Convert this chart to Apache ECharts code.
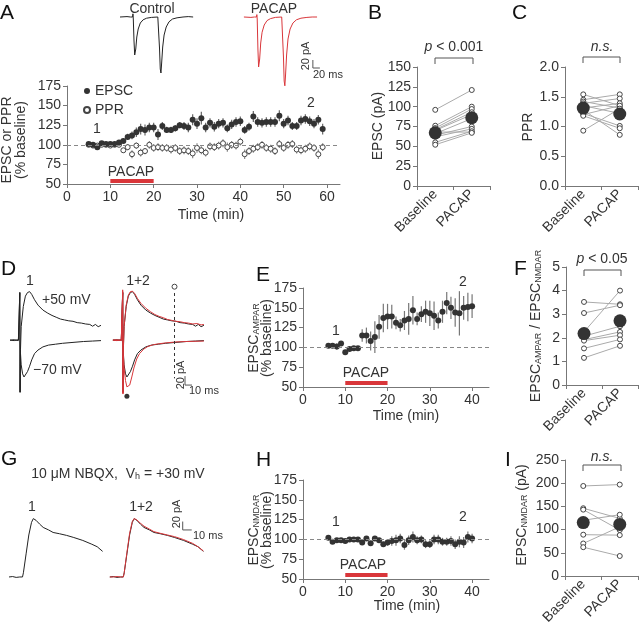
<!DOCTYPE html>
<html>
<head>
<meta charset="utf-8">
<script src="https://cdn.jsdelivr.net/npm/echarts@6/dist/echarts.min.js"></script>
<style>html,body{margin:0;background:#fff}#main{width:640px;height:627px}</style>
</head>
<body>
<div id="main"></div>
<script>
// ---- data ----
var aTime = [5,6,7,8,9,10,11,12,13,14,15,16,17,18,19,20,21,22,23,24,25,26,27,28,29,30,31,32,33,34,35,36,37,38,39,40,41,42,43,44,45,46,47,48,49,50,51,52,53,54,55,56,57,58,59];
var aEpsc = [101,100,97,102,101,101,101,103,105,110,112,116,120,119,122,122,113,124,119,119,121,125,124,122,132,127,134,122,128,123,127,128,121,126,129,130,119,123,136,129,128,129,129,129,137,127,131,124,124,131,133,130,127,132,120];
var aEpscErr = [2,2,3,2,2,2,2,2,3,4,5,6,7,7,6,6,7,5,4,4,4,4,5,6,7,7,8,6,6,6,6,6,5,6,6,6,5,5,7,6,6,6,6,6,7,6,6,5,5,6,6,6,6,6,7];
var aPpr = [100,99,99,100,100,99,100,100,93,97,88,99,90,92,100,96,97,96,96,94,96,92,93,92,89,96,93,90,98,97,99,102,97,100,99,104,88,92,95,97,100,96,95,92,101,96,100,101,94,93,95,98,96,88,97];
var aPprErr = [2,2,2,2,2,2,2,2,3,4,5,4,5,4,5,5,5,5,5,5,5,5,5,5,6,6,5,5,5,5,5,5,6,5,5,5,6,5,5,5,5,5,5,5,5,5,5,5,5,5,5,5,5,6,5];

var eTime = [6,7,8,9,10,11,12,13,14,15,16,17,18,19,20,21,22,23,24,25,26,27,28,29,30,31,32,33,34,35,36,37,38,39,40];
var eVal = [102,102,101,105,94,98,99,99,115,115,108,113,126,137,139,139,131,128,134,136,147,136,142,145,143,140,134,145,156,150,144,143,150,151,152];
var eErr = [2,2,4,2,3,2,2,2,8,10,12,20,15,18,16,15,8,8,12,20,18,8,10,14,16,18,10,14,14,14,18,28,15,18,15];

var hTime = [6,7,8,9,10,11,12,13,14,15,16,17,18,19,20,21,22,23,24,25,26,27,28,29,30,31,32,33,34,35,36,37,38,39,40];
var hVal = [102,97,99,99,98,100,100,100,96,101,95,101,99,94,96,98,99,101,93,99,103,99,100,94,94,100,100,97,97,98,94,97,96,103,101];
var hErr = [1,2,1,1,1,1,1,1,2,2,3,3,3,3,4,6,7,6,6,6,7,5,5,5,5,6,6,5,5,6,6,7,7,7,6];

var pacapOn = [10, 20];
var pairCats = ['Baseline', 'PACAP'];

var bBase = [96,76,73,71,70,68,66,64,62,55,52];
var bPacap = [121,100,97,93,90,68,85,75,72,69,67];
var bMean = [67, 86];

var cBase = [1.54,1.45,1.42,1.39,1.35,1.31,1.28,1.22,1.20,1.18,0.93];
var cPacap = [1.35,1.54,1.31,1.47,1.22,1.39,0.86,1.01,1.35,0.97,1.30];
var cMean = [1.31, 1.21];

var fBase = [3.52,3.05,2.25,2.07,1.92,1.88,1.55,1.15];
var fPacap = [3.42,3.38,4.0,2.49,2.25,2.11,1.93,1.66];
var fMean = [2.18, 2.72];

var iBase = [194,146,143,120,89,70,62];
var iPacap = [197,124,99,132,88,106,43];
var iMean = [115, 111];

// example traces [ms, pA]
var ctlTrace = [[0,0],[20,1],[30,0],[36,0],[37,8],[38,-5],[40,-60],[42,-95],[43,-100],[45,-80],[48,-50],[52,-30],[58,-15],[66,-7],[76,-3],[90,-1],[108,0],[110,5],[111,-5],[113,-80],[115,-130],[117,-140],[119,-115],[122,-75],[126,-45],[132,-25],[140,-12],[150,-5],[163,-2],[180,0],[195,1],[209,0]];
var pacTrace = [[0,0],[20,-1],[30,0],[36,0],[37,6],[38,-5],[40,-80],[42,-125],[43,-130],[45,-105],[48,-65],[52,-38],[58,-20],[66,-9],[76,-4],[90,-1],[108,0],[110,5],[111,-5],[113,-100],[115,-160],[117,-172],[119,-145],[122,-95],[126,-55],[132,-30],[140,-15],[150,-7],[163,-3],[180,-1],[195,0],[209,0]];

var d1Up = [[0,0],[6,1],[12,-1],[13.5,0],[14,106],[14.4,-116],[15,-20],[16,30],[19,75],[22,98],[25,106],[28,108],[31,102],[35,90],[40,78],[47,67],[54,60],[60,55],[66,51],[72,47],[78,45],[84,43],[90,42],[96,39],[102,38],[108,36],[114,35],[118,31],[122,35],[126,30],[130,33]];
var d1Down = [[0,0],[6,-1],[12,1],[13.5,0],[14,106],[14.4,-116],[15,-30],[16,-55],[18,-75],[20,-82],[22,-80],[25,-70],[28,-58],[31,-44],[35,-30],[40,-22],[47,-15],[55,-11],[65,-9],[75,-7],[90,-5],[105,-3],[118,-2],[130,-1]];
var d2Up = [[0,0],[6,-1],[12,1],[13.5,0],[14,112],[14.4,-118],[15,-15],[16,30],[19,78],[22,100],[25,108],[28,109],[31,104],[35,93],[40,82],[47,71],[54,63],[60,57],[66,53],[72,50],[78,46],[84,44],[90,42],[96,41],[102,39],[108,38],[114,36],[120,37],[126,34],[130,35]];
var d2Down = [[0,0],[6,1],[12,-1],[13.5,0],[14,108],[14.4,-120],[15,-35],[16,-62],[18,-90],[20,-104],[22,-107],[24,-100],[27,-82],[30,-62],[34,-42],[38,-30],[44,-20],[50,-14],[58,-10],[66,-8],[76,-6],[90,-4],[105,-3],[130,-2]];
var dMarkTimes = [88, 20];

var g1 = [[0,0],[4,1],[8,-1],[12,0],[15,0],[16,10],[19,55],[22,100],[25,130],[27,139],[30,135],[34,126],[38,118],[44,112],[49,106],[56,103],[64,99],[72,94],[82,87],[92,78],[98,72],[104,61]];
var g2 = [[0,0],[4,0],[8,1],[12,0],[15,0],[16,10],[19,58],[22,104],[25,132],[27,139],[30,136],[34,128],[38,121],[44,114],[49,108],[56,104],[64,100],[72,96],[82,89],[92,80],[98,72],[104,62]];

var scaleA = [20, 20];  // ms, pA
var scaleD = [10, 20];
var scaleG = [10, 20];

// ---- chart ----
var myChart = echarts.init(document.getElementById('main'));
var FF = '"Liberation Sans", Arial, sans-serif';
var RED = '#d9363a';

var axLine = {show: true, lineStyle: {color: '#777', width: 1}};
function tickSt(extra) { return Object.assign({show: true, length: 4, inside: false, lineStyle: {color: '#777'}}, extra || {}); }
function labSt(extra) { return Object.assign({color: '#333', fontSize: 14, fontFamily: FF, margin: 6}, extra || {}); }

function hidX(g, min, max) { return {type: 'value', gridIndex: g, min: min, max: max, show: false}; }
function timeX(g, max, ticks) {
    return {type: 'value', gridIndex: g, min: 0, max: max, axisLine: axLine,
        axisTick: tickSt({customValues: ticks}), axisLabel: labSt({customValues: ticks}), splitLine: {show: false}};
}
function valY(g, min, max, interval, fmt) {
    return {type: 'value', gridIndex: g, min: min, max: max, interval: interval, axisLine: axLine,
        axisTick: tickSt(), axisLabel: labSt(fmt ? {formatter: fmt} : {}), splitLine: {show: false}};
}
function catX(g) {
    return {type: 'category', gridIndex: g, data: pairCats, boundaryGap: true, axisLine: axLine,
        axisTick: tickSt({alignWithLabel: false, interval: 0}),
        axisLabel: labSt({rotate: 45, interval: 0, margin: 6}), splitLine: {show: false}};
}

var openDot = {color: '#fff', borderColor: '#444', borderWidth: 1, opacity: 1};
var fullDot = {color: '#333', opacity: 1};

function pts(t, v) { return t.map(function (x, i) { return [x, v[i]]; }); }
function errBars(g, t, v, e, color) {
    return {
        type: 'custom', xAxisIndex: g, yAxisIndex: g, silent: true, z: 1,
        data: t.map(function (x, i) { return [x, v[i], e[i]]; }),
        encode: {x: 0, y: 1},
        renderItem: function (params, api) {
            var lo = api.coord([api.value(0), api.value(1) - api.value(2)]);
            var hi = api.coord([api.value(0), api.value(1) + api.value(2)]);
            return {type: 'line', shape: {x1: lo[0], y1: lo[1], x2: hi[0], y2: hi[1]}, style: {stroke: color, lineWidth: 1.2}};
        }
    };
}
var dash100 = {silent: true, symbol: ['none', 'none'], label: {show: false}, animation: false,
    lineStyle: {color: '#888', type: [4, 3], width: 1}, data: [{yAxis: 100}]};
function pacapBar(g, level) {
    return {type: 'line', xAxisIndex: g, yAxisIndex: g, data: [[pacapOn[0], level], [pacapOn[1], level]],
        symbol: 'none', lineStyle: {color: RED, width: 4}, z: 3};
}
function trace(g, arr, off, color) {
    return {type: 'line', xAxisIndex: g, yAxisIndex: g, data: arr.map(function (p) { return [p[0] + off, p[1]]; }),
        symbol: 'none', lineStyle: {color: color, width: 1}, z: color === RED ? 3 : 2};
}
function scaleBar(g, t0, p0, sc) {
    return {type: 'line', xAxisIndex: g, yAxisIndex: g, data: [[t0, p0 + sc[1]], [t0, p0], [t0 + sc[0], p0]],
        symbol: 'none', lineStyle: {color: '#555', width: 1}};
}
function pairSeries(g, base, pac, mean) {
    var s = base.map(function (b, i) {
        return {type: 'line', xAxisIndex: g, yAxisIndex: g, data: [b, pac[i]], symbol: 'circle', symbolSize: 5,
            lineStyle: {color: '#aaa', width: 1}, itemStyle: openDot, z: 2};
    });
    s.push({type: 'scatter', xAxisIndex: g, yAxisIndex: g, data: mean, symbolSize: 13, itemStyle: fullDot, z: 5});
    return s;
}
function timeSeries(g, t, v, e) {
    return [errBars(g, t, v, e, '#777'),
        {type: 'scatter', xAxisIndex: g, yAxisIndex: g, data: pts(t, v), symbolSize: 6, itemStyle: fullDot, z: 4, markLine: dash100}];
}

function txt(x, y, text, o) {
    o = o || {};
    var st = {text: text, fill: o.color || '#333', font: (o.italic ? 'italic ' : '') + (o.size || 14) + 'px ' + FF,
        textAlign: o.align || 'center', align: o.align || 'center', textVerticalAlign: o.va || 'middle', verticalAlign: o.va || 'middle'};
    if (o.rich) st.rich = o.rich;
    return {type: 'text', x: x, y: y, rotation: o.rot || 0, style: st, z: 10};
}
var R90 = Math.PI / 2;
var subRich = {
    m: {fontSize: 14, fontFamily: FF, fill: '#333', lineHeight: 14, padding: [0, 0, 3, 0], verticalAlign: 'top'},
    s: {fontSize: 9, fontFamily: FF, fill: '#333', lineHeight: 9, verticalAlign: 'bottom'},
    i: {fontSize: 14, fontFamily: FF, fill: '#333', fontStyle: 'italic'},
    n: {fontSize: 14, fontFamily: FF, fill: '#333'}
};
function letter(x, y, s) { return txt(x, y, s, {size: 21, color: '#111', align: 'left', va: 'top'}); }
function bracket(x1, x2, y) {
    return {type: 'polyline', shape: {points: [[x1, y + 6], [x1, y], [x2, y], [x2, y + 6]]}, style: {stroke: '#555', fill: null, lineWidth: 1}};
}

var series = [];
// A traces
series.push(trace(0, ctlTrace, 0, '#222'), trace(0, pacTrace, 354, RED), scaleBar(0, 551, -127.5, scaleA));
// A time course
series.push(errBars(1, aTime, aPpr, aPprErr, '#888'), errBars(1, aTime, aEpsc, aEpscErr, '#666'));
series.push({type: 'scatter', name: 'PPR', xAxisIndex: 1, yAxisIndex: 1, data: pts(aTime, aPpr), symbol: 'circle',
    symbolSize: 5, itemStyle: openDot, z: 3, markLine: dash100});
series.push({type: 'scatter', name: 'EPSC', xAxisIndex: 1, yAxisIndex: 1, data: pts(aTime, aEpsc), symbol: 'circle',
    symbolSize: 6, itemStyle: fullDot, z: 4});
series.push(pacapBar(1, 53.8));
// B, C
series = series.concat(pairSeries(2, bBase, bPacap, bMean), pairSeries(3, cBase, cPacap, cMean));
// D traces
var dOff = 147;
series.push(trace(4, d1Up, 0, '#222'), trace(4, d1Down, 0, '#222'));
series.push(trace(4, d1Up, dOff, '#222'), trace(4, d1Down, dOff, '#222'), trace(4, d2Up, dOff, RED), trace(4, d2Down, dOff, RED));
series.push({type: 'line', xAxisIndex: 4, yAxisIndex: 4, data: [[dOff + dMarkTimes[0], 105], [dOff + dMarkTimes[0], -85]],
    symbol: 'none', lineStyle: {color: '#333', width: 1, type: [3, 3]}});
series.push({type: 'scatter', xAxisIndex: 4, yAxisIndex: 4, data: [[dOff + dMarkTimes[0], 119]], symbol: 'circle', symbolSize: 5, itemStyle: openDot});
series.push({type: 'scatter', xAxisIndex: 4, yAxisIndex: 4, data: [[dOff + dMarkTimes[1], -125]], symbolSize: 5, itemStyle: fullDot});
series.push(scaleBar(4, 250, -100, scaleD));
// E, F
series = series.concat(timeSeries(5, eTime, eVal, eErr));
series.push(pacapBar(5, 55));
series = series.concat(pairSeries(6, fBase, fPacap, fMean));
// G traces
var gOff = 112;
series.push(trace(7, g1, 0, '#222'), trace(7, g1, gOff, '#222'), trace(7, g2, gOff, RED), scaleBar(7, 193, 112, scaleG));
// H, I
series = series.concat(timeSeries(8, hTime, hVal, hErr));
series.push(pacapBar(8, 55));
series = series.concat(pairSeries(9, iBase, iPacap, iMean));

var option = {
    animation: false,
    textStyle: {fontFamily: FF},
    grid: [
        {left: 120, top: 10, width: 200, height: 85},
        {left: 67, top: 86, width: 273, height: 98},
        {left: 417, top: 67, width: 73, height: 119},
        {left: 565, top: 67, width: 73, height: 119},
        {left: 10, top: 284, width: 210, height: 115},
        {left: 303, top: 288, width: 186, height: 99},
        {left: 566, top: 267, width: 72, height: 118},
        {left: 9, top: 505, width: 200, height: 85},
        {left: 303, top: 480, width: 186, height: 99},
        {left: 565, top: 460, width: 73, height: 119}
    ],
    xAxis: [
        hidX(0, 0, 571.4),
        timeX(1, 63, [0, 10, 20, 30, 40, 50, 60]),
        catX(2), catX(3),
        hidX(4, 0, 300),
        timeX(5, 44, [0, 10, 20, 30, 40]),
        catX(6),
        hidX(7, 0, 222.2),
        timeX(8, 44, [0, 10, 20, 30, 40]),
        catX(9)
    ],
    yAxis: [
        {type: 'value', gridIndex: 0, min: -195, max: 17.5, show: false},
        valY(1, 50, 175, 25),
        valY(2, 0, 150, 25),
        valY(3, 0, 2, 0.5, function (v) { return v.toFixed(1); }),
        {type: 'value', gridIndex: 4, min: -131, max: 125, show: false},
        valY(5, 50, 175, 25),
        valY(6, 0, 5, 1),
        {type: 'value', gridIndex: 7, min: -31, max: 171.4, show: false},
        valY(8, 50, 175, 25),
        valY(9, 0, 250, 50)
    ],
    legend: {
        data: [{name: 'EPSC', icon: 'circle'}, {name: 'PPR', icon: 'circle'}],
        orient: 'vertical', left: 78, top: 79, itemWidth: 6, itemHeight: 6, itemGap: 5,
        selectedMode: false, textStyle: {fontSize: 14, color: '#333', fontFamily: FF}
    },
    series: series,
    graphic: [
        letter(0, 3, 'A'), letter(368, 3, 'B'), letter(512, 3, 'C'),
        letter(1, 259, 'D'), letter(256, 265, 'E'), letter(514, 259, 'F'),
        letter(1, 449, 'G'), letter(256, 450, 'H'), letter(505, 450, 'I'),
        // A
        txt(152, 9, 'Control'), txt(274, 9, 'PACAP'),
        txt(306, 56, '20 pA', {size: 11, rot: R90}), txt(313, 75, '20 ms', {size: 11, align: 'left'}),
        txt(7, 140, 'EPSC or PPR', {rot: R90}), txt(21, 140, '(% baseline)', {rot: R90}),
        txt(211, 215, 'Time (min)'),
        txt(97, 129, '1'), txt(311, 103, '2'), txt(131, 172, 'PACAP'),
        // B, C
        txt(378, 126, 'EPSC (pA)', {rot: R90}),
        txt(454, 47, '{i|p}{n| < 0.001}', {rich: subRich}), bracket(435, 473, 58),
        txt(528, 127, 'PPR', {rot: R90}),
        txt(602, 47, 'n.s.', {italic: true}), bracket(583, 620, 57),
        // D
        txt(30, 281, '1'), txt(42, 300, '+50 mV', {align: 'left'}), txt(33, 370, '\u221270 mV', {align: 'left'}),
        txt(138, 281, '1+2'),
        txt(181, 375, '20 pA', {size: 11, rot: R90}), txt(189, 391, '10 ms', {size: 11, align: 'left'}),
        // E
        txt(254, 338, '{m|EPSC}{s|AMPAR}', {rich: subRich, rot: R90}), txt(267, 338, '(% baseline)', {rot: R90}),
        txt(406, 416, 'Time (min)'),
        txt(336, 331, '1'), txt(463, 282, '2'), txt(366, 373, 'PACAP'),
        // F
        txt(536, 326, '{m|EPSC}{s|AMPAR}{m| / EPSC}{s|NMDAR}', {rich: subRich, rot: R90}),
        txt(602, 259, '{i|p}{n| < 0.05}', {rich: subRich}), bracket(584, 621, 270),
        // G
        txt(118, 474, '{m|10 \u03bcM NBQX,  V}{s|h}{m| = +30 mV}', {rich: subRich}),
        txt(32, 507, '1'), txt(141, 507, '1+2'),
        txt(177, 514, '20 pA', {size: 11, rot: R90}), txt(193, 536, '10 ms', {size: 11, align: 'left'}),
        // H
        txt(254, 530, '{m|EPSC}{s|NMDAR}', {rich: subRich, rot: R90}), txt(267, 530, '(% baseline)', {rot: R90}),
        txt(407, 606, 'Time (min)'),
        txt(336, 522, '1'), txt(463, 517, '2'), txt(363, 565, 'PACAP'),
        // I
        txt(522, 515, '{m|EPSC}{s|NMDAR}{m| (pA)}', {rich: subRich, rot: R90}),
        txt(602, 457, 'n.s.', {italic: true}), bracket(583, 621, 465)
    ]
};
myChart.setOption(option);
</script>
</body>
</html>
